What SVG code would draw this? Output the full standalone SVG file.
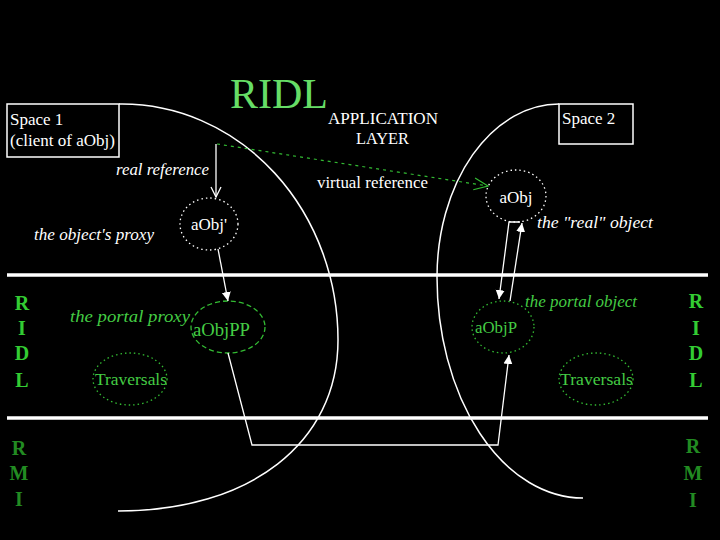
<svg xmlns="http://www.w3.org/2000/svg" width="720" height="540" viewBox="0 0 720 540">
<defs>
<style>
.t{font-family:"Liberation Serif","Times New Roman",serif;font-size:17px;fill:#fff}
.i{font-style:italic}
.g{fill:#44cc44}
.side{font-family:"Liberation Serif",serif;font-weight:bold;font-size:20px;text-anchor:middle}
.ridl{fill:#33cc33}
.rmi{fill:#228b22}
.wl{fill:none;stroke:#fff;stroke-width:1.5}
.sep{stroke:#fff;stroke-width:3.5}
.dotw{fill:none;stroke:#fff;stroke-width:1.3;stroke-dasharray:1.5 3}
.dotg{fill:none;stroke:#33bb33;stroke-width:1.3;stroke-dasharray:1.5 3}
.dashg{fill:none;stroke:#33bb33;stroke-width:1.3;stroke-dasharray:5 3}
.box{fill:none;stroke:#fff;stroke-width:1.5}
</style>
<marker id="openW" markerWidth="12" markerHeight="12" refX="11" refY="6" orient="auto" markerUnits="userSpaceOnUse">
<path d="M1,1 L11,6 L1,11" fill="none" stroke="#fff" stroke-width="1.3"/>
</marker>
<marker id="openG" markerWidth="16" markerHeight="14" refX="15" refY="7" orient="auto" markerUnits="userSpaceOnUse">
<path d="M1,1 L15,7 L1,13" fill="none" stroke="#33bb33" stroke-width="1.2"/>
</marker>
<marker id="fillW" markerWidth="10" markerHeight="10" refX="9" refY="5" orient="auto" markerUnits="userSpaceOnUse">
<path d="M0,0.5 L9,5 L0,9.5 Z" fill="#fff"/>
</marker>
</defs>
<rect width="720" height="540" fill="#000"/>

<g id="layers">
<line class="sep" x1="7" y1="275" x2="708" y2="275"/>
<line class="sep" x1="7" y1="418" x2="708" y2="418"/>
<text x="230" y="108" style="font-family:'Liberation Serif',serif;font-size:42px;fill:#66dd66">RIDL</text>
<text class="t" x="328" y="124" textLength="110" lengthAdjust="spacingAndGlyphs">APPLICATION</text>
<text class="t" x="356" y="144" textLength="53" lengthAdjust="spacingAndGlyphs">LAYER</text>
<g class="side ridl">
<text x="22" y="310">R</text><text x="22" y="335">I</text><text x="22" y="360">D</text><text x="22" y="387">L</text>
<text x="696" y="308">R</text><text x="696" y="335">I</text><text x="696" y="360">D</text><text x="696" y="387">L</text>
</g>
<g class="side rmi">
<text x="19" y="455">R</text><text x="19" y="480">M</text><text x="19" y="506">I</text>
<text x="693" y="453">R</text><text x="693" y="480">M</text><text x="693" y="507">I</text>
</g>
</g>

<g id="space1">
<path class="wl" d="M119,104 L122,104 A216,236 0 0 1 338,340 C338,443 250,511 118,511"/>
<rect class="box" x="7" y="104" width="112" height="53"/>
<text class="t" x="10" y="125">Space 1</text>
<text class="t" x="10" y="146" textLength="105" lengthAdjust="spacingAndGlyphs">(client of aObj)</text>
</g>

<g id="space2">
<path class="wl" d="M559,104 A122,173 0 0 0 437,277 A146,221 0 0 0 583,498"/>
<rect class="box" x="559" y="104" width="74" height="40"/>
<text class="t" x="562" y="124">Space 2</text>
</g>

<g id="aObjProxy">
<ellipse class="dotw" cx="209" cy="224" rx="29" ry="26"/>
<text class="t" x="209" y="230" text-anchor="middle">aObj'</text>
<text class="t i" x="34" y="240" textLength="120" lengthAdjust="spacingAndGlyphs">the object's proxy</text>
</g>

<g id="aObj">
<ellipse class="dotw" cx="516" cy="196" rx="30" ry="26"/>
<text class="t" x="516" y="203" text-anchor="middle">aObj</text>
<text class="t i" x="537" y="228" textLength="116" lengthAdjust="spacingAndGlyphs">the "real" object</text>
</g>

<g id="aObjPP">
<ellipse class="dashg" cx="228" cy="327" rx="37" ry="26"/>
<text class="t g" x="193" y="336" style="font-size:18px" textLength="57" lengthAdjust="spacingAndGlyphs">aObjPP</text>
<text class="t i g" x="70" y="322" textLength="120" lengthAdjust="spacingAndGlyphs">the portal proxy</text>
</g>

<g id="aObjP">
<ellipse class="dotg" cx="503" cy="327" rx="31" ry="26"/>
<text class="t g" x="475" y="333" textLength="42" lengthAdjust="spacingAndGlyphs">aObjP</text>
<text class="t i g" x="525" y="307" textLength="112" lengthAdjust="spacingAndGlyphs">the portal object</text>
</g>

<g id="traversals1">
<ellipse class="dotg" cx="130" cy="379" rx="37" ry="26"/>
<text class="t g" x="95" y="385" textLength="72" lengthAdjust="spacingAndGlyphs">Traversals</text>
</g>

<g id="traversals2">
<ellipse class="dotg" cx="596" cy="379" rx="37" ry="26"/>
<text class="t g" x="560" y="385" textLength="73" lengthAdjust="spacingAndGlyphs">Traversals</text>
</g>

<g id="connectors">
<line x1="217" y1="144" x2="488" y2="186" stroke="#33bb33" stroke-width="1.2" stroke-dasharray="3 4" marker-end="url(#openG)"/>
<text class="t" x="317" y="188" textLength="111" lengthAdjust="spacingAndGlyphs">virtual reference</text>
<line x1="216" y1="144" x2="216" y2="197" stroke="#fff" stroke-width="1.3" marker-end="url(#openW)"/>
<text class="t i" x="116" y="175" textLength="93" lengthAdjust="spacingAndGlyphs">real reference</text>
<line x1="218" y1="249" x2="228" y2="301" stroke="#fff" stroke-width="1.3" marker-end="url(#fillW)"/>
<path d="M228,353 L252,445 L498,445 L509,355" fill="none" stroke="#fff" stroke-width="1.3" marker-end="url(#fillW)"/>
<path d="M520,222 L509,222 L499,299" fill="none" stroke="#fff" stroke-width="1.3" marker-end="url(#fillW)"/>
<line x1="510" y1="301" x2="522" y2="223" stroke="#fff" stroke-width="1.3" marker-end="url(#fillW)"/>
</g>
</svg>
